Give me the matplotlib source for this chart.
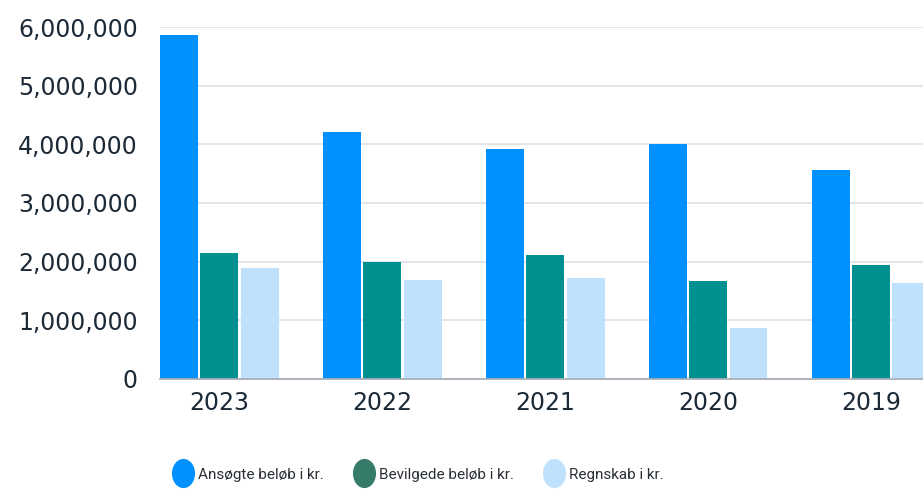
""" grouped bars: ansøgte, bevilgede, regnskab """
import numpy as np
import matplotlib
matplotlib.use("Agg")
import matplotlib.pyplot as plt
from matplotlib.lines import Line2D
from matplotlib.path import Path
from matplotlib.ticker import FuncFormatter
from matplotlib.transforms import Affine2D

years = ["2023", "2022", "2021", "2020", "2019"]
ansoegte = [5860000, 4210000, 3920000, 4000000, 3560000]
bevilgede = [2150000, 1990000, 2110000, 1670000, 1940000]
regnskab = [1890000, 1690000, 1720000, 870000, 1640000]

labels = ["Ansøgte beløb i kr.", "Bevilgede beløb i kr.", "Regnskab i kr."]
bar_colors = ["#0091ff", "#009090", "#bfe1fb"]
legend_colors = ["#0091ff", "#367b6a", "#bfe1fb"]
text_color = "#1c2a38"

fig = plt.figure(figsize=(9.23, 4.92), dpi=100)
# axes run past the right edge, like the cropped original
ax = fig.add_axes([0.1733, 0.2297, 0.835, 0.7154])

x = np.arange(len(years))
step = 0.247
width = 0.233
for i, (vals, col) in enumerate(zip([ansoegte, bevilgede, regnskab], bar_colors)):
    ax.bar(x + (i - 1) * step, vals, width, color=col, zorder=3)

ax.set_xlim(-0.365, 4.365)
ax.set_ylim(0, 6000000)
ax.set_yticks(np.arange(0, 6000001, 1000000))
ax.yaxis.set_major_formatter(FuncFormatter(lambda v, p: f"{int(v):,}"))
ax.set_xticks(x)
ax.set_xticklabels(years)

ax.grid(axis="y", color="#dfe3e8", linewidth=1.3, zorder=0)
for s in ["top", "right", "left"]:
    ax.spines[s].set_visible(False)
ax.spines["bottom"].set_color("#a9b0b8")
ax.spines["bottom"].set_linewidth(1.3)
ax.spines["bottom"].set_zorder(4)
ax.tick_params(axis="both", length=0, labelsize=17, labelcolor=text_color)
ax.tick_params(axis="y", pad=16)
ax.tick_params(axis="x", pad=9)

# tall oval markers for the legend
oval = Path.unit_circle().transformed(Affine2D().scale(0.78, 1.0))
handles = [Line2D([], [], linestyle="none", marker=oval, markersize=20,
                  markerfacecolor=c, markeredgecolor=c) for c in legend_colors]
fig.legend(handles, labels, loc="center", bbox_to_anchor=(0.453, 0.035),
           ncol=3, frameon=False, prop={"family": "Roboto", "size": 11},
           labelcolor="#2a2f36", handletextpad=0.3, columnspacing=1.9,
           handlelength=1.4)

fig.savefig("out.png", dpi=100)
